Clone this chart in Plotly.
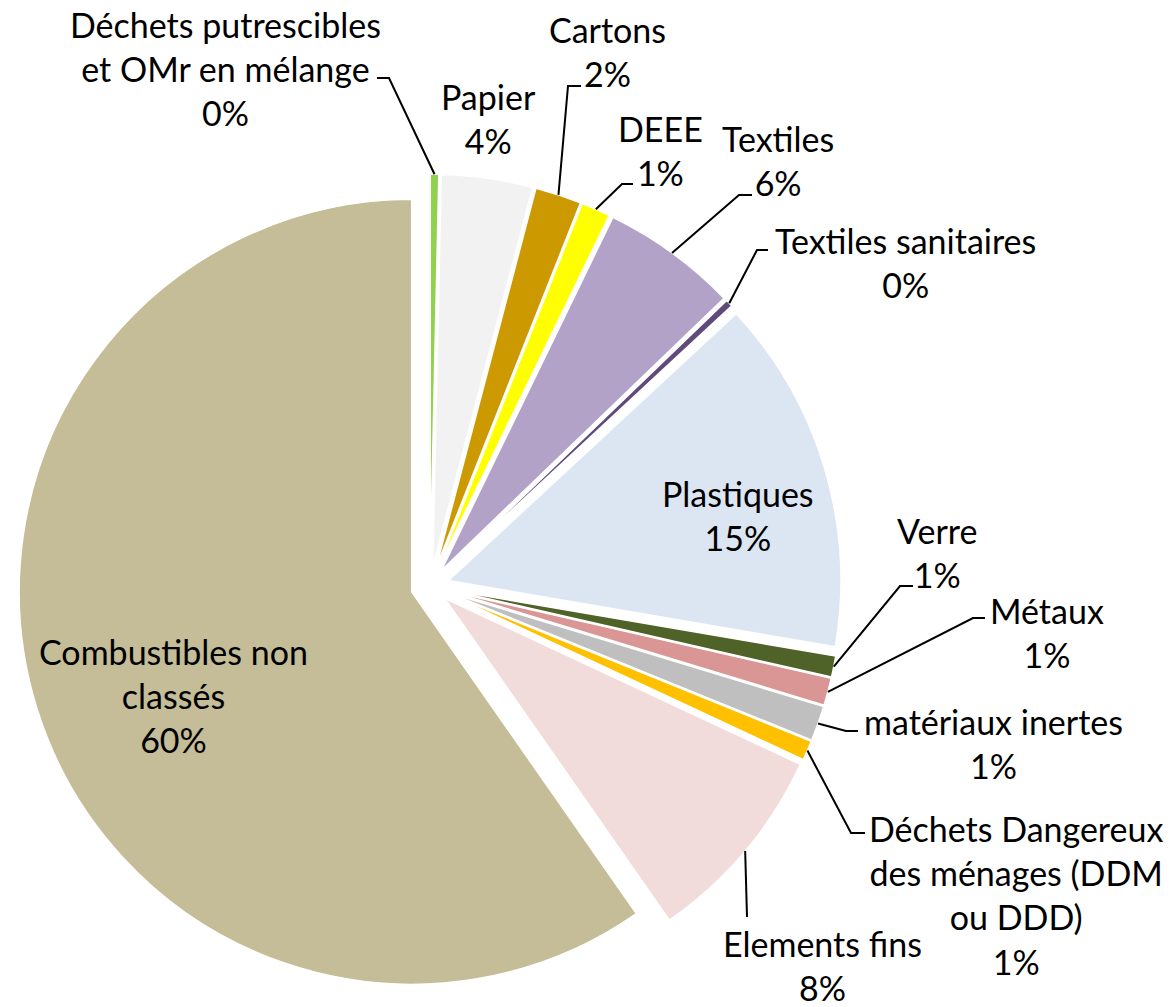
import plotly.graph_objects as go
import math

# ---------------- data ----------------
categories = [
    "Déchets putrescibles et OMr en mélange", "Papier", "Cartons", "DEEE",
    "Textiles", "Textiles sanitaires", "Plastiques", "Verre", "Métaux",
    "matériaux inertes", "Déchets Dangereux des ménages (DDM ou DDD)",
    "Elements fins", "Combustibles non classés",
]
label_lines = [
    "Déchets putrescibles<br>et OMr en mélange", "Papier", "Cartons", "DEEE",
    "Textiles", "Textiles sanitaires", "Plastiques", "Verre", "Métaux",
    "matériaux inertes", "Déchets Dangereux<br>des ménages (DDM<br>ou DDD)",
    "Elements fins", "Combustibles non<br>classés",
]
values = [0.35, 3.75, 1.9, 1.2, 5.6, 0.3, 14.6, 0.87, 1.13, 1.44, 0.81, 8.35, 59.7]

# ---------------- style ----------------
colors = ["#92D050", "#F2F2F2", "#CC9900", "#FFFF00", "#B3A2C7", "#604A7B",
          "#DCE6F2", "#4F6228", "#D99694", "#BFBFBF", "#FFC000", "#F2DCDB",
          "#C4BD97"]

W, H = 1173, 1007
CX, CY = 430.0, 586.0      # pie centre (px)
R = 392.5                  # pie radius (px)
PULL = 0.049
FONT = "Lato"
FS = 34

half = R * (1 + PULL)
dom_x = [(CX - half) / W, (CX + half) / W]
dom_y = [(H - CY - half) / H, (H - CY + half) / H]

def px(x, y):
    return x / W, 1 - y / H

# label block centres (px) and leader-line bend points (px)
label_pos = {
    0: (225, 68), 1: (488, 118), 2: (607, 51), 3: (660, 151), 4: (778, 160),
    5: (905, 262), 6: (738, 515), 7: (937, 552), 8: (1047, 632),
    9: (993, 743), 10: (1016, 895), 11: (822, 965), 12: (173, 695),
}
leaders = {
    0: [(389, 78), (377, 78)],
    2: [(568, 86), (581, 86)],
    3: [(622, 184), (633, 184)],
    4: [(739, 195), (752, 195)],
    5: [(757, 250), (768, 250)],
    7: [(900, 586), (913, 586)],
    8: [(973, 618), (985, 618)],
    9: [(846, 731), (858, 731)],
    10: [(851, 833), (865, 833)],
    11: [(747, 917)],
}

fig = go.Figure(go.Pie(
    labels=categories, values=values, sort=False, direction="clockwise",
    rotation=0, pull=PULL, textinfo="none", showlegend=False,
    marker=dict(colors=colors, line=dict(color="white", width=1.5)),
    domain=dict(x=dom_x, y=dom_y),
))

total = sum(values)
annotations = []
shapes = []
cum = 0.0
for i, v in enumerate(values):
    a0 = cum / total * 360
    cum += v
    a1 = cum / total * 360
    mid = math.radians((a0 + a1) / 2)
    hx = CX + (1 + PULL) * R * math.sin(mid)
    hy = CY - (1 + PULL) * R * math.cos(mid)
    pct = round(100 * v / total)
    lx, ly = label_pos[i]
    ax, ay = px(lx, ly)
    annotations.append(dict(
        x=ax, y=ay, xref="paper", yref="paper", xanchor="center",
        yanchor="middle", align="center", showarrow=False,
        text=f"{label_lines[i]}<br>{pct}%",
        font=dict(family=FONT, size=FS, color="black"),
    ))
    if i in leaders:
        pts = [(hx, hy)] + leaders[i]
        path = "M " + " L ".join(f"{px(x, y)[0]:.5f},{px(x, y)[1]:.5f}" for x, y in pts)
        shapes.append(dict(type="path", path=path, xref="paper", yref="paper",
                           line=dict(color="black", width=2)))

fig.update_layout(
    width=W, height=H, margin=dict(l=0, r=0, t=0, b=0),
    paper_bgcolor="white", plot_bgcolor="white",
    annotations=annotations, shapes=shapes,
    font=dict(family=FONT, size=FS, color="black"),
)
fig.write_html(
    "out.html",
    config={"displayModeBar": False},
    post_script="document.body.style.margin='0px';document.body.style.overflow='hidden';",
)
